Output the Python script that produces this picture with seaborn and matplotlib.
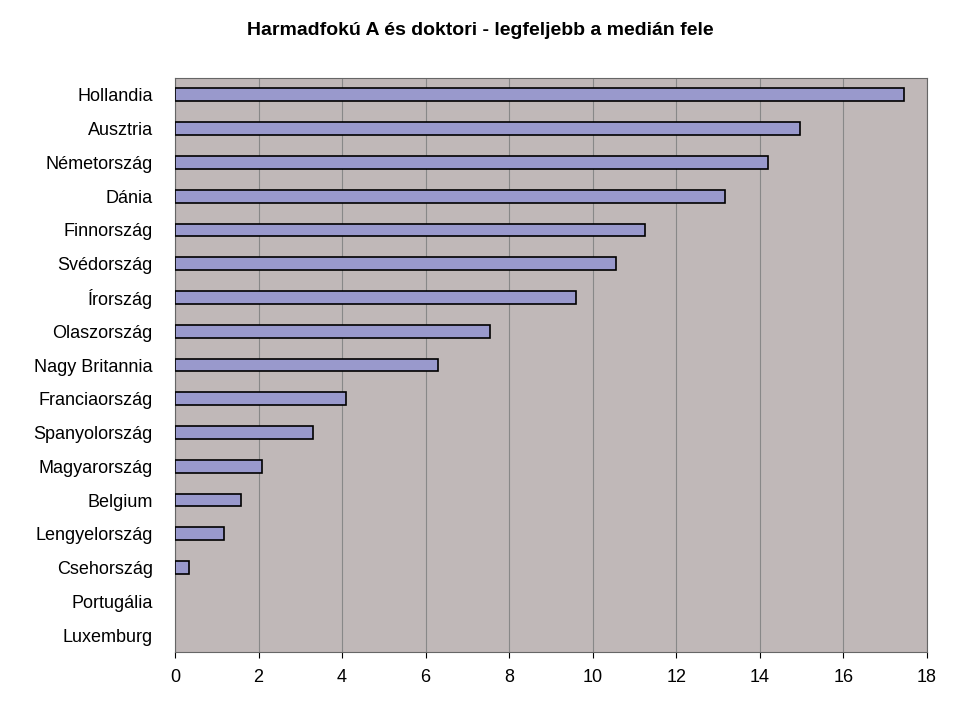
import matplotlib
matplotlib.use("Agg")
import matplotlib.pyplot as plt
import seaborn as sns
import pandas as pd

countries = ["Hollandia", "Ausztria", "Németország", "Dánia", "Finnország", "Svédország",
             "Írország", "Olaszország", "Nagy Britannia", "Franciaország", "Spanyolország",
             "Magyarország", "Belgium", "Lengyelország", "Csehország", "Portugália", "Luxemburg"]
values = [17.46, 14.95, 14.19, 13.16, 11.24, 10.55, 9.59, 7.54, 6.29, 4.09, 3.30,
          2.08, 1.58, 1.17, 0.33, 0.0, 0.0]
xticks = [0, 2, 4, 6, 8, 10, 12, 14, 16, 18]

df = pd.DataFrame({"country": countries, "value": values})

plt.rcParams['font.family'] = 'Liberation Sans'
fig = plt.figure(figsize=(9.6, 7.19), dpi=100)
ax = fig.add_axes([175/960, 1 - 652/719, (927-175)/960, (652-78)/719])
ax.set_facecolor('#C0B8B8')

sns.barplot(data=df, x="value", y="country", ax=ax, color='#9999CC',
            edgecolor='black', linewidth=1.2, width=0.38, saturation=1, zorder=3)
# zero-length bars are not drawn in the original
for p, v in zip(ax.patches, values):
    if v == 0:
        p.set_visible(False)

ax.set_xlim(0, 18)
ax.set_xticks(xticks)
ax.set_xticklabels([str(t) for t in xticks], fontsize=13)
ax.tick_params(axis='y', labelsize=13, length=0, pad=16)
ax.tick_params(axis='x', length=4, pad=8)
ax.grid(axis='x', color='#888888', linewidth=0.8, zorder=0)
ax.set_axisbelow(True)
ax.set_xlabel("")
ax.set_ylabel("")
for s in ax.spines.values():
    s.set_color('#666666')

fig.suptitle("Harmadfokú A és doktori - legfeljebb a medián fele",
             fontsize=14, fontweight='bold', y=0.97)

plt.savefig("out.png", dpi=100)
